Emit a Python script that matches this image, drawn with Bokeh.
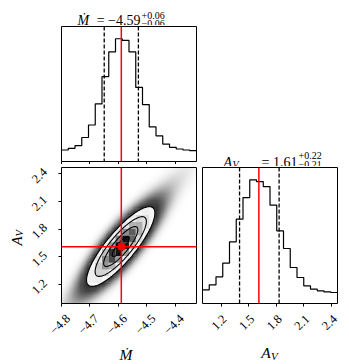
import numpy as np
from bokeh.plotting import figure
from bokeh.layouts import row, column
from bokeh.models import Range1d, Span, FixedTicker, Spacer
from bokeh.core.properties import value
from bokeh.embed import file_html
from bokeh.resources import INLINE

# ---------------- data ----------------
MDOT_RANGE = [-4.800, -4.326]
AV_RANGE = [0.997, 2.465]
N_BINS = 20

mdot_counts = [35, 40, 48, 73, 111, 175, 258, 333, 373, 368,
               333, 225, 173, 105, 78, 53, 43, 38, 35, 33]
av_counts = [41, 56, 80, 121, 185, 253, 318, 371, 366, 351,
             295, 218, 165, 108, 78, 53, 43, 38, 35, 33]

mdot_quantiles = [-4.65, -4.53]
av_quantiles = [1.40, 1.83]
mdot_truth = -4.59
av_truth = 1.61

mdot_ticks = [-4.8, -4.7, -4.6, -4.5, -4.4]
mdot_tick_labels = ["\u22124.8", "\u22124.7", "\u22124.6", "\u22124.5", "\u22124.4"]
av_ticks = [1.2, 1.5, 1.8, 2.1, 2.4]
av_tick_labels = ["1.2", "1.5", "1.8", "2.1", "2.4"]

mdot_title = ["\u1e40", "= \u22124.59", "+0.06", "\u22120.06"]
av_title = ["A", "V", "= 1.61", "+0.22", "\u22120.21"]
mdot_label = "\u1e40"
av_label = ["A", "V"]

# shape of the joint posterior (centre, widths, correlation)
pair_center = [-4.592, 1.612]
pair_sigma = [0.060, 0.215]
pair_rho = 0.84
contour_radii = [0.5, 1.0, 1.5, 2.0]
tail_weight = 0.03
tail_spread = [3.0, 1.0]
point_density = 150.0
point_alpha = 0.1

SERIF = "Liberation Serif"
RED = "#ff0000"
TICK_FONT = 12.5

# panel geometry (pixels)
PW, PH = 135, 136
LEFT = 61
TICK = 3


def density(m, a):
    u = (m - pair_center[0]) / pair_sigma[0]
    v = (a - pair_center[1]) / pair_sigma[1]
    r2 = (u * u - 2 * pair_rho * u * v + v * v) / (1 - pair_rho ** 2)
    along = (u + v) / np.sqrt(2)
    perp = (v - u) / np.sqrt(2)
    tail = tail_weight * np.exp(-along ** 2 / (2 * tail_spread[0] ** 2)
                                - perp ** 2 / (2 * (1 - pair_rho) * tail_spread[1] ** 2))
    return np.exp(-r2 / 2) + tail


def ellipse(r):
    t = np.linspace(0, 2 * np.pi, 241)
    u = r * np.cos(t)
    v = r * (pair_rho * np.cos(t) + np.sqrt(1 - pair_rho ** 2) * np.sin(t))
    return (pair_center[0] + pair_sigma[0] * u).tolist(), (pair_center[1] + pair_sigma[1] * v).tolist()


def style(p):
    p.xgrid.visible = False
    p.ygrid.visible = False
    p.outline_line_color = "black"
    p.outline_line_width = 1
    p.background_fill_color = "white"
    p.border_fill_color = "white"


def style_axis(ax, ticks):
    ax.ticker = FixedTicker(ticks=ticks)
    ax.minor_tick_line_color = None
    ax.major_tick_out = TICK
    ax.major_tick_in = 0
    ax.major_tick_line_color = "black"
    ax.major_tick_line_width = 1
    ax.axis_line_color = None
    ax.major_label_text_font_size = "0px"
    ax.major_label_text_color = None
    ax.major_label_standoff = 0
    ax.axis_label_standoff = 0


def text_fig(width, height, x_range, y_range):
    f = figure(width=width, height=height, x_range=x_range, y_range=y_range,
               output_backend="svg", toolbar_location=None, title=None,
               x_axis_location=None, y_axis_location=None, frame_align=False,
               min_border=0, min_border_left=0, min_border_right=0,
               min_border_top=0, min_border_bottom=0)
    f.xgrid.visible = False
    f.ygrid.visible = False
    f.outline_line_color = None
    f.background_fill_color = "white"
    f.border_fill_color = "white"
    return f


def txt(p, xs, ys, texts, size, align="left", baseline="alphabetic", angle=0.0, fstyle="normal"):
    p.text(x=list(xs), y=list(ys), text=list(texts), angle=angle,
           text_font=value(SERIF), text_font_size=value(f"{size}px"),
           text_align=align, text_baseline=baseline, text_font_style=fstyle,
           text_color="black")


def hist_panel(p, counts, rng, quants, truth):
    edges = np.linspace(rng[0], rng[1], N_BINS + 1).tolist()
    p.step(x=edges, y=list(counts) + [counts[-1]], mode="after",
           line_color="black", line_width=1.2)
    for q in quants:
        p.add_layout(Span(location=q, dimension="height", line_color="black",
                          line_width=1.3, line_dash="4 2"))
    p.add_layout(Span(location=truth, dimension="height", line_color=RED, line_width=1.5))


s_m = (MDOT_RANGE[1] - MDOT_RANGE[0]) / PW
s_a = (AV_RANGE[1] - AV_RANGE[0]) / PH
s_v = (AV_RANGE[1] - AV_RANGE[0]) / PW

# ---------------- title above the Mdot histogram (page y 0..25) ----------------
t_top = text_fig(199, 25, Range1d(0, 199), Range1d(0, 25))
txt(t_top, [77], [5], [mdot_title[0]], 14, fstyle="italic")
txt(t_top, [140], [5], [mdot_title[1]], 14, align="right")
txt(t_top, [141], [10], [mdot_title[2]], 10)
txt(t_top, [141], [2.5], [mdot_title[3]], 10)

# ---------------- top-left: Mdot histogram ----------------
p_top = figure(width=199, height=139, x_range=Range1d(*MDOT_RANGE),
               y_range=Range1d(0, 1.1 * max(mdot_counts)),
               output_backend="svg", toolbar_location=None, y_axis_location=None,
               frame_align=False,
               min_border_left=LEFT, min_border_right=3, min_border_top=1, min_border_bottom=TICK)
style(p_top)
style_axis(p_top.xaxis[0], mdot_ticks)
hist_panel(p_top, mdot_counts, MDOT_RANGE, mdot_quantiles, mdot_truth)

# ---------------- bottom-left: joint panel ----------------
p_pair = figure(width=141, height=143, x_range=Range1d(*MDOT_RANGE),
                y_range=Range1d(*AV_RANGE), output_backend="svg", toolbar_location=None,
                frame_align=False,
                min_border_left=TICK, min_border_right=3, min_border_top=3, min_border_bottom=4)
style(p_pair)
style_axis(p_pair.xaxis[0], mdot_ticks)
style_axis(p_pair.yaxis[0], av_ticks)

nx, ny = PW, PH
dm = (MDOT_RANGE[1] - MDOT_RANGE[0]) / nx
da = (AV_RANGE[1] - AV_RANGE[0]) / ny
mg, ag = np.meshgrid(MDOT_RANGE[0] + (np.arange(nx) + 0.5) * dm,
                     AV_RANGE[0] + (np.arange(ny) + 0.5) * da)
n_pts = point_density * density(mg, ag)
alpha = 1 - (1 - point_alpha) ** n_pts
rgba = np.zeros((ny, nx, 4), dtype=np.uint8)
rgba[..., 3] = np.clip(np.round(alpha * 255), 0, 255).astype(np.uint8)
img = rgba.view(np.uint32).reshape(ny, nx)
p_pair.image_rgba(image=[img], x=MDOT_RANGE[0], y=AV_RANGE[0],
                  dw=MDOT_RANGE[1] - MDOT_RANGE[0], dh=AV_RANGE[1] - AV_RANGE[0])

ex, ey = ellipse(contour_radii[-1])
p_pair.patch(ex, ey, fill_color="white", line_color=None)

be_m = np.linspace(MDOT_RANGE[0], MDOT_RANGE[1], N_BINS + 1)
be_a = np.linspace(AV_RANGE[0], AV_RANGE[1], N_BINS + 1)
cm_, ca_ = np.meshgrid(0.5 * (be_m[1:] + be_m[:-1]), 0.5 * (be_a[1:] + be_a[:-1]))
H = density(cm_, ca_)
h = H / H.max()
L, R, B, T, C, A = [], [], [], [], [], []
for j in range(N_BINS):
    for i in range(N_BINS):
        if h[j, i] > 0.01:
            L.append(be_m[i]); R.append(be_m[i + 1])
            B.append(be_a[j]); T.append(be_a[j + 1])
            g = int(round(255 * (1 - h[j, i])))
            C.append("#%02x%02x%02x" % (g, g, g))
            A.append(float(h[j, i]))
p_pair.quad(left=L, right=R, bottom=B, top=T, fill_color=C, fill_alpha=A, line_color=None)

cx, cy = zip(*[ellipse(r) for r in contour_radii])
p_pair.multi_line(xs=list(cx), ys=list(cy), line_color="black", line_width=1.1)

p_pair.add_layout(Span(location=mdot_truth, dimension="height", line_color=RED, line_width=1.5))
p_pair.add_layout(Span(location=av_truth, dimension="width", line_color=RED, line_width=1.5))
p_pair.scatter([mdot_truth], [av_truth], marker="square", size=6, color=RED)

# ---------------- left of joint panel: Av tick labels + axis label ----------------
t_left = text_fig(LEFT - TICK, 143, Range1d(0, LEFT - TICK),
                  Range1d(AV_RANGE[0] - 4 * s_a, AV_RANGE[1] + 3 * s_a))
txt(t_left, [39] * len(av_ticks), [t - 2 * s_a for t in av_ticks], av_tick_labels, TICK_FONT,
    align="center", baseline="middle", angle=np.pi / 4)
mid_a = 0.5 * (AV_RANGE[0] + AV_RANGE[1])
txt(t_left, [16], [mid_a - 10 * s_a], [av_label[0]], 15, angle=np.pi / 2, fstyle="italic")
txt(t_left, [18.5], [mid_a - 1 * s_a], [av_label[1]], 10.5, angle=np.pi / 2, fstyle="italic")

# ---------------- below joint panel: Mdot tick labels + axis label ----------------
t_bl = text_fig(199, 57, Range1d(MDOT_RANGE[0] - LEFT * s_m, MDOT_RANGE[1] + 3 * s_m),
                Range1d(0, 57))
txt(t_bl, [t - 1.5 * s_m for t in mdot_ticks], [40] * len(mdot_ticks), mdot_tick_labels,
    TICK_FONT, align="center", baseline="middle", angle=np.pi / 4)
mid_m = 0.5 * (MDOT_RANGE[0] + MDOT_RANGE[1])
txt(t_bl, [mid_m - 3 * s_m], [10], [mdot_label], 15.5, align="center", fstyle="italic")

# ---------------- title above the Av histogram (page y 138..166) ----------------
t_right = text_fig(150, 28, Range1d(199, 349), Range1d(0, 28))
txt(t_right, [223], [4.5], [av_title[0]], 14, fstyle="italic")
txt(t_right, [232], [2.5], [av_title[1]], 10, fstyle="italic")
txt(t_right, [297], [4.5], [av_title[2]], 14, align="right")
txt(t_right, [298], [11], [av_title[3]], 10)
txt(t_right, [298], [2.5], [av_title[4]], 10)

# ---------------- bottom-right: Av histogram ----------------
p_av = figure(width=150, height=141, x_range=Range1d(*AV_RANGE),
              y_range=Range1d(0, 1.1 * max(av_counts)),
              output_backend="svg", toolbar_location=None, y_axis_location=None,
              frame_align=False,
              min_border_left=3, min_border_right=12, min_border_top=1, min_border_bottom=4)
style(p_av)
style_axis(p_av.xaxis[0], av_ticks)
hist_panel(p_av, av_counts, AV_RANGE, av_quantiles, av_truth)

# ---------------- below Av histogram: tick labels + axis label ----------------
t_br = text_fig(150, 57, Range1d(AV_RANGE[0] - 3 * s_v, AV_RANGE[1] + 12 * s_v), Range1d(0, 57))
txt(t_br, [t - 2 * s_v for t in av_ticks], [42] * len(av_ticks), av_tick_labels, TICK_FONT,
    align="center", baseline="middle", angle=np.pi / 4)
mid_v = 0.5 * (AV_RANGE[0] + AV_RANGE[1])
txt(t_br, [mid_v - 4 * s_v], [12], [av_label[0]], 15.5, align="center", fstyle="italic")
txt(t_br, [mid_v + 1 * s_v], [9], [av_label[1]], 11, fstyle="italic")

left_col = column(t_top, p_top, row(t_left, p_pair), t_bl)
right_col = column(Spacer(width=150, height=138), t_right, p_av, t_br)
layout = row(left_col, right_col)

with open("out.html", "w") as f:
    f.write(file_html(layout, INLINE))
